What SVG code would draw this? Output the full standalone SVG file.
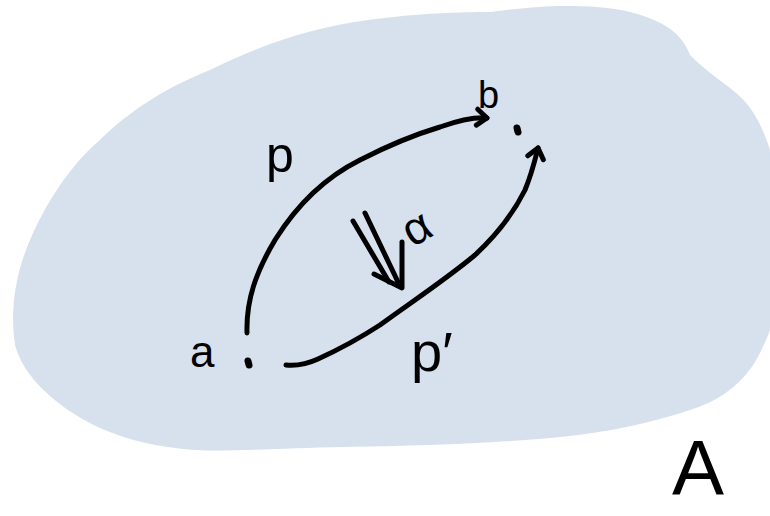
<svg xmlns="http://www.w3.org/2000/svg" width="770" height="516" viewBox="0 0 770 516">
<style>
.ink{fill:none;stroke:#000;stroke-width:5;stroke-linecap:round;stroke-linejoin:round}
.dot{fill:none;stroke:#000;stroke-width:7;stroke-linecap:round}
.lbl{font-family:"Liberation Sans","DejaVu Sans",sans-serif;fill:#000}
</style>
<defs>
<marker id="open" markerUnits="userSpaceOnUse" markerWidth="30" markerHeight="30" refX="0" refY="0" viewBox="-15 -15 30 30" orient="auto" overflow="visible">
<path d="M-10,-8 L0,0 L-10,8" fill="none" stroke="#000" stroke-width="5" stroke-linecap="round" stroke-linejoin="round"/>
</marker>
</defs>
<g id="space-A">
<path d="M770,150 L770,330 C764,346 758,358 751,368 C735,390 715,402 690,410 C650,423 610,432 560,437 C500,443 420,446 344,447 C280,448 230,452 196,450 C140,446 100,432 68,410 C40,390 22,370 15,345 C10,310 15,275 30,240 C45,205 70,165 100,140 C125,115 160,90 210,70 C260,45 310,28 368,20 C420,13 460,12 491,12 C520,8 545,6 565,6 C590,6 610,7 630,12 C655,18 672,28 680,38 C686,45 688,50 690,55 C705,70 720,80 735,92 C752,106 762,125 770,150 Z" fill="#d6e1ed"/>
<text class="lbl" x="672" y="495" font-size="78">A</text>
</g>
<g id="node-a">
<path class="dot" d="M248,361 L249,365"/>
<text class="lbl" x="190" y="367" font-size="44">a</text>
</g>
<g id="node-b">
<path class="dot" d="M517,128 L518,132"/>
<text class="lbl" x="478" y="108" font-size="38">b</text>
</g>
<g id="connectors">
<path class="ink" marker-end="url(#open)" d="M247,333 C246,300 256,272 275,240 C300,200 330,175 360,160 C395,142 420,133 440,127 C460,120 475,117 487,118"/>
<path class="ink" marker-end="url(#open)" d="M286,365 C296,366 305,365 318,359 C340,349 360,338 380,325 C410,303 445,280 475,255 C500,232 515,210 525,190 C532,173 535,160 538,148"/>
<text class="lbl" x="266" y="172" font-size="50">p</text>
<text class="lbl" x="411" y="371" font-size="56">p′</text>
<g id="two-cell">
<path class="ink" d="M353,221 L389,282"/>
<path class="ink" d="M365,213 L398,282"/>
<path class="ink" d="M374,274 L402,288 L402,242"/>
<text class="lbl" x="0" y="0" font-size="46" text-anchor="middle" transform="translate(424,241) rotate(-30)">α</text>
</g>
</g>
</svg>
